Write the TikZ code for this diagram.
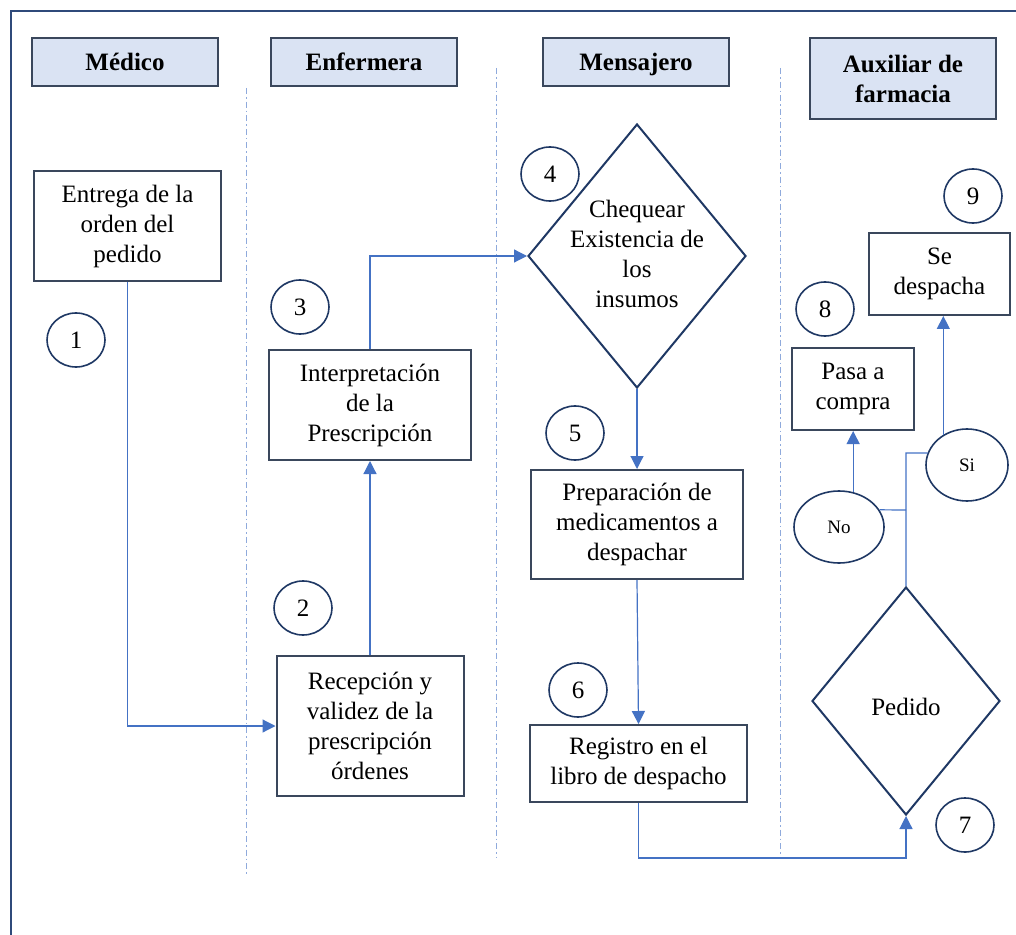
\documentclass[tikz,border=0pt]{standalone}
\usepackage{fontspec}
\setmainfont{Liberation Serif}
\usetikzlibrary{arrows.meta,shapes.geometric}
\definecolor{hdrfill}{HTML}{DAE3F3}
\definecolor{boxline}{HTML}{3A475C}
\definecolor{circline}{HTML}{1F3864}
\definecolor{connblue}{HTML}{4472C4}
\definecolor{lanecol}{HTML}{8FAADC}
\definecolor{framecol}{HTML}{2F4A7A}
\begin{document}
\begin{tikzpicture}[x=0.5pt,y=-0.5pt,
  font=\fontsize{12.5}{15}\selectfont,
  hdr/.style={draw=boxline,line width=1pt,fill=hdrfill,font=\fontsize{12.5}{15}\selectfont\bfseries,inner sep=0pt},
  hdrone/.style={hdr,text height=8.6pt,text depth=0.4pt},
  stepbox/.style={draw=boxline,line width=1pt,align=center,inner sep=0pt,fill=white},
  num/.style={ellipse,draw=circline,line width=0.8pt,minimum width=29pt,minimum height=27pt,inner sep=0pt},
  choice/.style={ellipse,draw=circline,line width=0.8pt,inner sep=0pt,font=\fontsize{9.5}{10}\selectfont},
  dia/.style={diamond,draw=circline,line width=1pt,inner sep=0pt},
  link/.style={draw=connblue,line width=0.6pt},
  arr/.style={link,-{Triangle[width=6.5pt,length=6.5pt]}},
  lanesep/.style={draw=lanecol,line width=0.5pt,dash pattern=on 3pt off 1.5pt on 0.8pt off 1.5pt}
]
\useasboundingbox (0,0) rectangle (1016,935);
\draw[framecol,line width=1pt] (11,935) -- (11,11) -- (1016,11);

% lane separators
\draw[lanesep] (246,88) -- (246,875);
\draw[lanesep] (496,68) -- (496,857);
\draw[lanesep] (780,68) -- (780,857);

% headers
\node[hdrone,minimum width=93pt,minimum height=24pt] (hMed) at (125,62) {Médico};
\node[hdrone,minimum width=93pt,minimum height=24pt] (hEnf) at (364,62) {Enfermera};
\node[hdrone,minimum width=93pt,minimum height=24pt] (hMen) at (636,62) {Mensajero};
\node[hdr,align=center,minimum width=93pt,minimum height=40.5pt] (hAux) at (903,78.5) {Auxiliar de\\farmacia};

% steps
\node[stepbox,minimum width=93.5pt,minimum height=55pt] (entrega) at (127.5,226) {Entrega de la\\orden del\\pedido};
\node[stepbox,minimum width=101pt,minimum height=55pt] (interp) at (370,405) {Interpretación\\de la\\Prescripción};
\node[stepbox,minimum width=93.5pt,minimum height=70pt] (recep) at (370,726) {Recepción y\\validez de la\\prescripción\\órdenes};
\node[dia,minimum width=109pt,minimum height=132pt] (cheq) at (637,256) {};
\node[align=center] at (637,254) {Chequear\\Existencia de\\los\\insumos};
\node[stepbox,minimum width=106pt,minimum height=54.5pt] (prep) at (637,524.5) {Preparación de\\medicamentos a\\despachar};
\node[stepbox,minimum width=108.5pt,minimum height=38.5pt] (regis) at (638.5,763.5) {Registro en el\\libro de despacho};
\node[dia,minimum width=94pt,minimum height=114pt] (pedido) at (906,701) {};
\node at (906,707) {Pedido};
\node[stepbox,minimum width=61pt,minimum height=41pt] (pasa) at (853,389) {Pasa a\\compra};
\node[stepbox,minimum width=70.5pt,minimum height=41pt] (sedes) at (939.5,274) {Se\\despacha};
\node[choice,minimum width=41pt,minimum height=36pt] (si) at (967,465) {Si};
\node[choice,minimum width=45pt,minimum height=36pt] (no) at (839,527) {No};

% numbers
\node[num] (n1) at (76,340) {1};
\node[num] (n2) at (303,608) {2};
\node[num] (n3) at (300,307) {3};
\node[num] (n4) at (550,174) {4};
\node[num] (n5) at (575,433) {5};
\node[num] (n6) at (578,690) {6};
\node[num] (n7) at (965,825) {7};
\node[num] (n8) at (825,309) {8};
\node[num] (n9) at (973,196) {9};

% connectors
\coordinate (bot) at (780,858);
\coordinate (jn) at (906,510);
\coordinate (js) at (906,453);
\draw[arr] (entrega.south) |- (recep.west);
\draw[arr] (recep.north) -- (interp.south);
\draw[arr] (interp.north) |- (cheq.west);
\draw[arr] (cheq.south) -- (prep.north);
\draw[arr] (prep.south) -- (regis.north);
\draw[arr] (regis.south) |- (bot) -| (pedido.south);
\draw[link] (pedido.north) -- (js) -- (si.163);
\draw[link] (jn) -- (no.23);
\draw[arr] (no.68) -- (no.68 |- pasa.south);
\draw[arr] (si.128) -- (si.128 |- sedes.south);
\end{tikzpicture}
\end{document}
